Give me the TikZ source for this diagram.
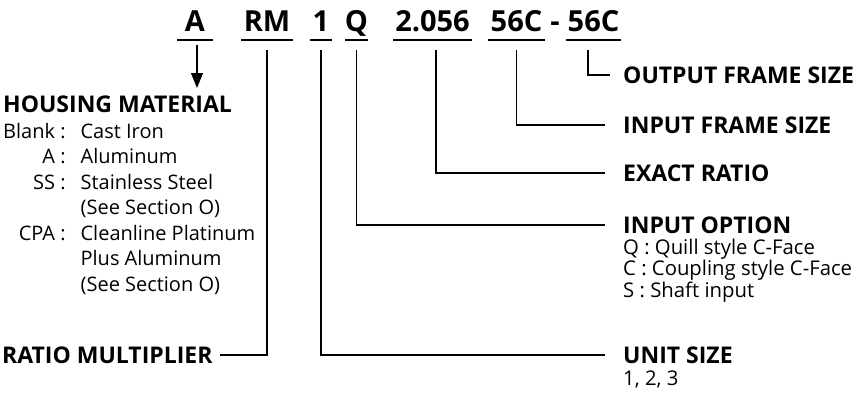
\documentclass[tikz,border=0pt]{standalone}
\usepackage{fontspec}
\setmainfont{Open Sans}
\usetikzlibrary{arrows.meta}

\begin{document}
\begin{tikzpicture}[x=1pt,y=-1pt,
  code/.style={font=\fontsize{29}{29}\selectfont\bfseries,anchor=base,inner sep=0pt},
  head/.style={font=\fontsize{23}{23}\selectfont\bfseries,inner sep=0pt},
  item/.style={font=\fontsize{20.3}{20.7}\selectfont,inner sep=0pt,anchor=base west},
  uline/.style={line width=2.5pt},
  lead/.style={line width=1.2pt}]
\useasboundingbox (0,0) rectangle (858,396);
\node[code,minimum width=36pt] (a) at (195,32) {A};
\node[code,minimum width=52pt] (rm) at (267,32) {RM};
\node[code,minimum width=22pt] (one) at (321,32) {1};
\node[code,minimum width=23pt] (q) at (356.5,32) {Q};
\node[code,minimum width=79pt] (ratio) at (432.5,32) {2.056};
\node[code,minimum width=57pt] (infr) at (516.5,32) {56C};
\node[code] (dash) at (555,32) {-};
\node[code,minimum width=55pt] (outfr) at (593.5,32) {56C};
\foreach \n in {a,rm,one,q,ratio,infr,outfr}
  \draw[uline] ([yshift=-8pt]\n.base west) -- ([yshift=-8pt]\n.base east);
\node[head,anchor=west] (housing) at (3,104) {HOUSING MATERIAL};
\node[head,anchor=west] (mult) at (2,355) {RATIO MULTIPLIER};
\node[head,anchor=west] (outsz) at (623,75) {OUTPUT FRAME SIZE};
\node[head,anchor=west] (insz) at (623,125) {INPUT FRAME SIZE};
\node[head,anchor=west] (exact) at (623,173) {EXACT RATIO};
\node[head,anchor=west] (inopt) at (623,225) {INPUT OPTION};
\node[head,anchor=west] (unit) at (623,355) {UNIT SIZE};
\node[item,font=\fontsize{20}{25.5}\selectfont] (housinglist) at (3,138)
  {\begin{tabular}[t]{@{}r@{\hspace{15pt}}l@{}}
   Blank : & Cast Iron\\
   A : & Aluminum\\
   SS : & Stainless Steel\\
   & (See Section O)\\
   CPA : & Cleanline Platinum\\
   & Plus Aluminum\\
   & (See Section O)
   \end{tabular}};
\node[item] (inoptlist) at (623,254)
  {\begin{tabular}[t]{@{}l@{}}
   Q : Quill style C-Face\\
   C : Coupling style C-Face\\
   S : Shaft input
   \end{tabular}};
\node[item] (unitlist) at (623,385) {1, 2, 3};
\coordinate (atip) at (197,88);
\draw[lead,-{Triangle[length=15pt,width=12pt]}] ([xshift=2pt,yshift=-13pt]a.base) -- (atip);
\draw[lead] ([xshift=-5.5pt,yshift=-18pt]outfr.base) |- ([xshift=-13pt]outsz.west);
\draw[lead] ([yshift=-18pt]infr.base) |- ([xshift=-18pt]insz.west);
\draw[lead] ([xshift=3.5pt,yshift=-18pt]ratio.base) |- ([xshift=-18pt]exact.west);
\draw[lead] ([yshift=-18pt]q.base) |- ([xshift=-18pt]inopt.west);
\draw[lead] ([yshift=-18pt]one.base) |- ([xshift=-18pt]unit.west);
\draw[lead] ([yshift=-18pt]rm.base) |- ([xshift=7pt]mult.east);
\end{tikzpicture}
\end{document}
